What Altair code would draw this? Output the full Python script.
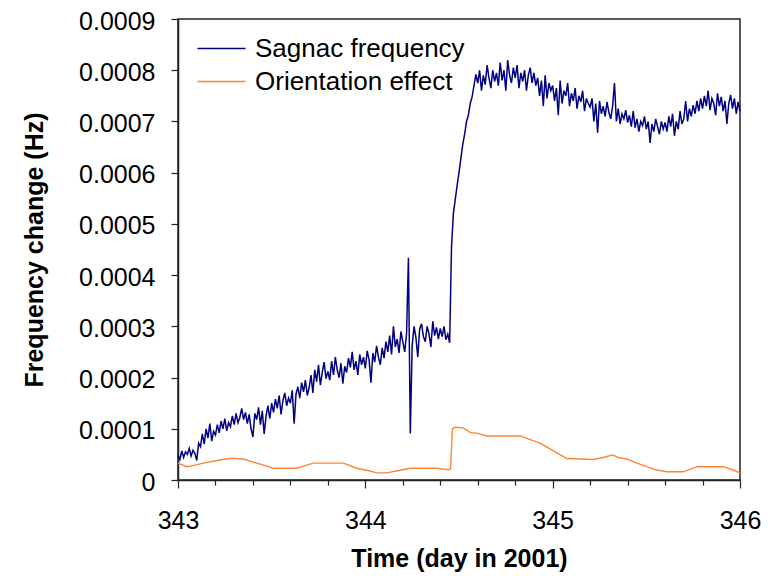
import altair as alt
import pandas as pd

# Sagnac frequency change, in micro-hertz, sampled every 0.01 day from day 343.00
sagnac_uhz = [
    48, 40, 57, 44, 55, 50, 62, 47, 58, 52,
    38, 72, 65, 90, 70, 100, 82, 110, 76, 95,
    88, 108, 92, 115, 100, 120, 96, 112, 104, 125,
    108, 130, 112, 122, 140, 118, 132, 110, 128, 100,
    84, 130, 118, 142, 108, 135, 90, 125, 145, 120,
    150, 132, 158, 140, 165, 128, 155, 170, 145, 160,
    150, 175, 110, 168, 182, 160, 190, 172, 195, 165,
    180, 205, 170, 215, 192, 225, 185, 210, 230, 198,
    212, 195, 232, 205, 240, 215, 200, 228, 188, 222,
    210, 238, 220, 250, 215, 232, 205, 245, 225, 240,
    218, 252, 235, 190, 248, 230, 262, 240, 225, 258,
    238, 270, 250, 282, 245, 300, 260, 275, 248, 290,
    270, 250, 285, 434, 91, 262, 300, 278, 240, 295,
    305, 280, 270, 300, 285, 260, 310, 282, 298, 275,
    296, 280, 300, 274, 285, 268, 455, 520, 548, 575,
    600, 628, 655, 675, 700, 712, 735, 748, 770, 792,
    775, 800, 760, 790, 772, 810, 785, 765, 800, 778,
    795, 770, 815, 780, 800, 760, 820, 790, 775, 805,
    785, 810, 765, 795, 778, 800, 760, 790, 805, 775,
    795, 770, 785, 750, 780, 730, 790, 745, 775, 760,
    770, 740, 765, 712, 780, 735, 760, 750, 775, 730,
    755, 740, 765, 725, 750, 738, 760, 720, 745, 735,
    728, 745, 700, 735, 678, 740, 715, 730, 710, 738,
    718, 705, 730, 775, 700, 725, 695, 715, 705, 722,
    698, 712, 690, 720, 688, 705, 680, 700, 692, 710,
    685, 700, 658, 695, 680, 705, 690, 675, 700, 685,
    698, 680, 710, 690, 715, 672, 700, 685, 720, 695,
    705, 740, 700, 725, 710, 732, 715, 740, 720, 745,
    725, 750, 730, 760, 722, 745, 735, 712, 755, 730,
    748, 720, 740, 695, 735, 752, 725, 745, 715, 738,
    720,
]
sagnac_days = [round(343 + i / 100, 2) for i in range(len(sagnac_uhz))]

# Orientation effect, in micro-hertz
orient_days = [
    343.00, 343.02, 343.046, 343.08, 343.135, 343.224, 343.27, 343.313, 343.36,
    343.402, 343.456, 343.509, 343.633, 343.68, 343.722, 343.883, 343.954,
    344.02, 344.06, 344.114, 344.185, 344.239, 344.381, 344.443, 344.455,
    344.465, 344.48, 344.52, 344.559, 344.60, 344.648, 344.826, 344.933,
    345.00, 345.075, 345.217, 345.27, 345.32, 345.35, 345.396, 345.45,
    345.502, 345.55, 345.609, 345.698, 345.77, 345.911, 345.96, 346.00,
]
orient_uhz = [
    33, 30, 26, 28, 33, 39, 42, 42, 40,
    35, 29, 23, 23, 28, 33, 33, 23,
    18, 14, 14, 19, 23, 23, 20, 22,
    100, 103, 102, 93, 91, 86, 86, 72,
    58, 42, 40, 44, 49, 44, 41, 33,
    26, 20, 16, 16, 26, 26, 20, 14,
]

series_names = ["Sagnac frequency", "Orientation effect"]
series_colors = ["#000080", "#FF8533"]
series_widths = [1.5, 1.4]

x_ticks = [round(343 + i * 0.2, 1) for i in range(16)]
y_ticks = [round(i * 0.0001, 4) for i in range(10)]

df = pd.concat([
    pd.DataFrame({"day": sagnac_days, "hz": [v / 1e6 for v in sagnac_uhz],
                  "series": series_names[0]}),
    pd.DataFrame({"day": orient_days, "hz": [v / 1e6 for v in orient_uhz],
                  "series": series_names[1]}),
], ignore_index=True)

FONT = "Liberation Sans"

chart = alt.Chart(df).mark_line().encode(
    x=alt.X(
        "day:Q",
        scale=alt.Scale(domain=[343, 346], nice=False, zero=False),
        axis=alt.Axis(
            values=x_ticks,
            labelExpr="datum.value % 1 == 0 ? format(datum.value, 'd') : ''",
            title="Time (day in 2001)",
            tickSize={"condition": {"test": "datum.value % 1 == 0", "value": 8}, "value": 5},
            labelPadding=20,
            titlePadding=13,
            labelFlush=False,
            labelOverlap=False,
            grid=False,
        ),
    ),
    y=alt.Y(
        "hz:Q",
        scale=alt.Scale(domain=[0, 0.0009], nice=False),
        axis=alt.Axis(
            values=y_ticks,
            labelExpr="datum.value == 0 ? '0' : format(datum.value, '.4f')",
            title="Frequency change (Hz)",
            tickSize=7,
            labelPadding=16,
            labelOffset=2,
            titlePadding=31,
            labelOverlap=False,
            grid=False,
        ),
    ),
    color=alt.Color(
        "series:N",
        scale=alt.Scale(domain=series_names, range=series_colors),
        legend=alt.Legend(
            title=None,
            orient="none",
            legendX=24,
            legendY=10,
            symbolType="M-1.3,0H1.3",
            symbolSize=1369,
            symbolStrokeWidth=1.5,
            labelFontSize=26,
            labelFont=FONT,
            labelColor="black",
            labelOffset=14,
            labelLimit=0,
            rowPadding=0,
            padding=0,
        ),
    ),
    strokeWidth=alt.StrokeWidth(
        "series:N",
        scale=alt.Scale(domain=series_names, range=series_widths),
        legend=None,
    ),
).properties(
    width=562,
    height=461,
    background="white",
    autosize=alt.AutoSizeParams(type="none"),
    padding={"left": 170, "top": 11, "right": 25, "bottom": 92},
).configure_view(
    stroke="#222222",
    strokeWidth=1.5,
).configure_axis(
    labelFont=FONT,
    labelFontSize=25,
    labelColor="black",
    titleFont=FONT,
    titleFontSize=25,
    titleFontWeight="bold",
    titleColor="black",
    domainColor="#222222",
    domainWidth=1.5,
    tickColor="#222222",
    tickWidth=1.2,
)

chart.save("out.html", embed_options={"renderer": "svg", "actions": False})
